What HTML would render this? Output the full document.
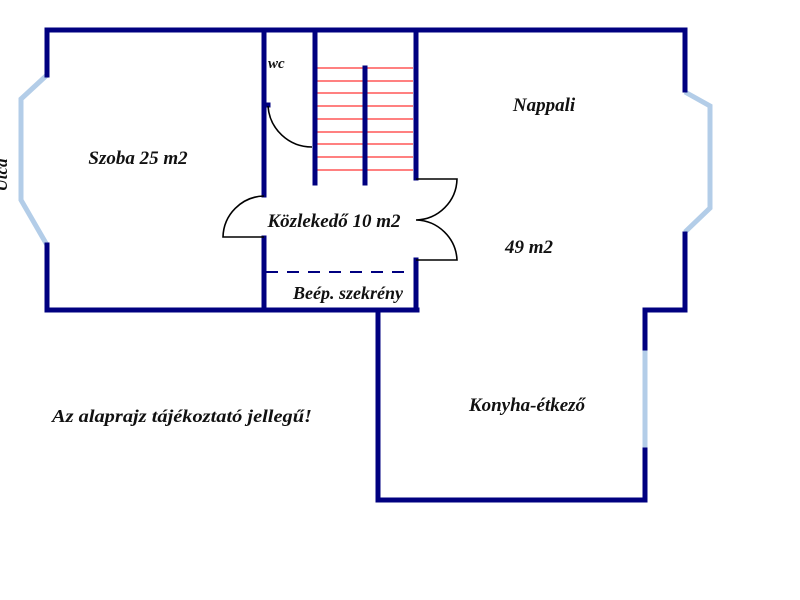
<!DOCTYPE html>
<html><head><meta charset="utf-8"><style>
html,body{margin:0;padding:0;background:#fff;width:800px;height:600px;overflow:hidden}
text{font-family:"Liberation Serif",serif;font-weight:bold;font-style:italic;fill:#111}
</style></head><body>
<svg width="800" height="600" viewBox="0 0 800 600" xmlns="http://www.w3.org/2000/svg">
<g stroke="#b3cde8" stroke-width="5" fill="none">
<polyline points="47,75 21,99 21,200 47,245"/>
<polyline points="685,92 710,106 710,208 685,232"/>
<line x1="645" y1="348" x2="645" y2="450"/>
</g>
<g stroke="red" stroke-width="1">
<line x1="317" y1="68" x2="413" y2="68"/><line x1="317" y1="81" x2="413" y2="81"/>
<line x1="317" y1="93" x2="413" y2="93"/><line x1="317" y1="106" x2="413" y2="106"/>
<line x1="317" y1="119" x2="413" y2="119"/><line x1="317" y1="132" x2="413" y2="132"/>
<line x1="317" y1="144" x2="413" y2="144"/><line x1="317" y1="157" x2="413" y2="157"/>
<line x1="317" y1="170" x2="413" y2="170"/>
</g>
<g stroke="#000080" stroke-width="5" fill="none" stroke-linecap="square">
<polyline points="47,75 47,30 685,30 685,90"/>
<polyline points="47,245 47,310 417,310"/>
<polyline points="264,30 264,195"/>
<polyline points="264,238 264,310"/>
<polyline points="315,30 315,183"/>
<polyline points="365,68 365,183"/>
<polyline points="416,30 416,178"/>
<polyline points="416,260 416,310"/>
<polyline points="685,234 685,310 645,310 645,348"/>
<polyline points="645,450 645,500 378,500 378,310"/>
<line x1="264" y1="105" x2="268" y2="105"/>
</g>
<line x1="266" y1="272" x2="406" y2="272" stroke="#000080" stroke-width="2" stroke-dasharray="12,9"/>
<g stroke="#000" stroke-width="1.6" fill="none">
<path d="M264,196 A42,42 0 0 0 223,237 L264,237"/>
<path d="M268,106 A44,44 0 0 0 312,147"/>
<path d="M416,179 L457,179 A42,42 0 0 1 416,220 A42,42 0 0 1 457,260 L416,260"/>
</g>
<text x="138" y="164" font-size="19" text-anchor="middle">Szoba 25 m2</text>
<text x="268" y="68" font-size="15">wc</text>
<text x="544" y="111" font-size="19" text-anchor="middle">Nappali</text>
<text x="334" y="227" font-size="19" text-anchor="middle">Közlekedő 10 m2</text>
<text x="529" y="253" font-size="19" text-anchor="middle">49 m2</text>
<text x="348" y="299" font-size="18" text-anchor="middle">Beép. szekrény</text>
<text x="527" y="411" font-size="19" text-anchor="middle">Konyha-étkező</text>
<text x="52" y="422" font-size="18" textLength="260" lengthAdjust="spacingAndGlyphs">Az alaprajz tájékoztató jellegű!</text>
<text x="7" y="175" font-size="17" transform="rotate(-90 7 175)" text-anchor="middle">Utca</text>
</svg>
</body></html>
